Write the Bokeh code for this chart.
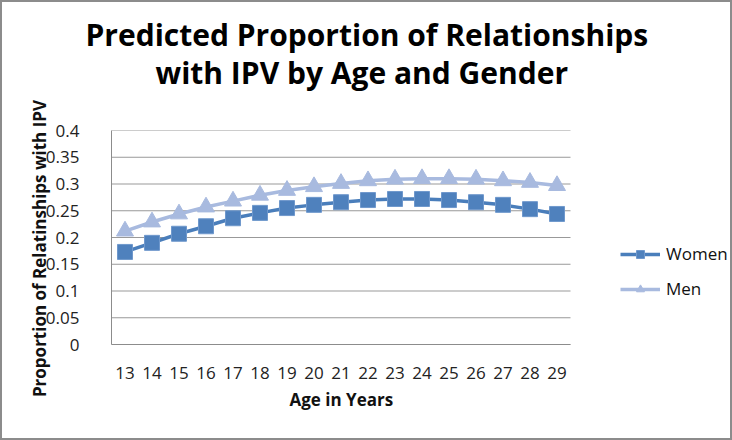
from bokeh.plotting import figure
from bokeh.models import Range1d, FixedTicker, Legend, LegendItem, Title
from bokeh.embed import file_html
from bokeh.resources import INLINE

ages = [13, 14, 15, 16, 17, 18, 19, 20, 21, 22, 23, 24, 25, 26, 27, 28, 29]
women = [0.173, 0.190, 0.207, 0.221, 0.236, 0.246, 0.255, 0.261, 0.266, 0.270,
         0.272, 0.272, 0.270, 0.266, 0.261, 0.253, 0.244]
men = [0.212, 0.229, 0.244, 0.257, 0.268, 0.279, 0.288, 0.295, 0.301, 0.306,
       0.309, 0.310, 0.310, 0.309, 0.306, 0.303, 0.297]
y_ticks = [0, 0.05, 0.1, 0.15, 0.2, 0.25, 0.3, 0.35, 0.4]
y_tick_labels = ["0", "0.05", "0.1", "0.15", "0.2", "0.25", "0.3", "0.35", "0.4"]
title_lines = ["Predicted Proportion of Relationships", "with IPV by Age and Gender"]
x_title = "Age in Years"
y_title = "Proportion of Relatinships with IPV"

FONT = "Open Sans"
WOMEN_C = "#4A7EBB"
MEN_C = "#A8BADF"
GRID_C = "#999999"

# category band extents (half a category either side of the first/last age)
x_lo = ages[0] - 0.5
x_hi = ages[-1] + 0.5
# the frame also covers the legend area on the right (same px per year)
plot_px = 459.0
legend_px = 160.0
x_end = x_hi + (x_hi - x_lo) * legend_px / plot_px

p = figure(width=732, height=440, output_backend="svg", toolbar_location=None,
           x_range=Range1d(x_lo, x_end), y_range=Range1d(y_ticks[0], y_ticks[-1]),
           min_border_left=109, min_border_right=4, min_border_top=128,
           min_border_bottom=98)
p.styles = {"border": "2px solid #8c8c8c", "box-sizing": "border-box"}
p.outline_line_color = None
p.background_fill_color = "white"
p.border_fill_color = "white"

# axes
p.xaxis.ticker = FixedTicker(ticks=ages)
p.xaxis.bounds = (x_lo, x_hi)
p.yaxis.ticker = FixedTicker(ticks=y_ticks)
p.yaxis.major_label_overrides = {t: l for t, l in zip(y_ticks, y_tick_labels)}
for ax in (p.xaxis[0], p.yaxis[0]):
    ax.axis_line_color = "#8c8c8c"
    ax.axis_line_width = 1
    ax.major_tick_line_color = None
    ax.minor_tick_line_color = None
    ax.major_label_text_font = FONT
    ax.major_label_text_font_size = "17px"
    ax.major_label_text_color = "#222222"
    ax.axis_label_text_font = FONT
    ax.axis_label_text_font_style = "bold"
    ax.axis_label_text_font_size = "17px"
    ax.axis_label_text_color = "#111111"
p.xaxis.major_label_standoff = 16
p.yaxis.major_label_standoff = 26
p.yaxis.axis_label = y_title + "\u00a0" * 5
p.yaxis.axis_label_standoff = -8

p.xgrid.grid_line_color = None
p.ygrid.grid_line_color = None
# horizontal gridlines limited to the category band
p.segment(x0=[x_lo] * len(y_ticks), x1=[x_hi] * len(y_ticks), y0=y_ticks, y1=y_ticks,
          line_color=GRID_C, line_width=1)

# series
r_wl = p.line(ages, women, line_color=WOMEN_C, line_width=3.5)
r_ws = p.scatter(ages, women, marker="square", size=15, fill_color="#4F81BD",
                 line_color="#6F98CC", line_width=1)
r_ml = p.line(ages, men, line_color=MEN_C, line_width=3.5)
r_ms = p.scatter(ages, men, marker="triangle", size=17, fill_color=MEN_C,
                 line_color=MEN_C, line_width=1)

legend = Legend(items=[LegendItem(label="Women", renderers=[r_wl, r_ws]),
                       LegendItem(label="Men", renderers=[r_ml, r_ms])],
                location=(509, 44), orientation="vertical",
                border_line_color=None, background_fill_alpha=0,
                label_text_font=FONT, label_text_font_size="17px",
                label_text_color="#111111",
                glyph_width=40, glyph_height=20, label_height=20,
                spacing=12, padding=0, label_standoff=6, margin=0)
p.add_layout(legend, "center")

# chart title: second line first (nearest the frame), then the first line
p.add_layout(Title(text=title_lines[1], align="left", offset=44,
                   text_font=FONT, text_font_style="bold", text_font_size="30px",
                   text_color="#000000", standoff=75), "above")
p.add_layout(Title(text=title_lines[0], align="left", offset=-26,
                   text_font=FONT, text_font_style="bold", text_font_size="30px",
                   text_color="#000000", standoff=-84), "above")
# x axis title, centred under the category band
p.add_layout(Title(text=x_title, align="left", offset=178,
                   text_font=FONT, text_font_style="bold", text_font_size="17px",
                   text_color="#111111", standoff=8), "below")

open("out.html", "w").write(file_html(p, INLINE))
